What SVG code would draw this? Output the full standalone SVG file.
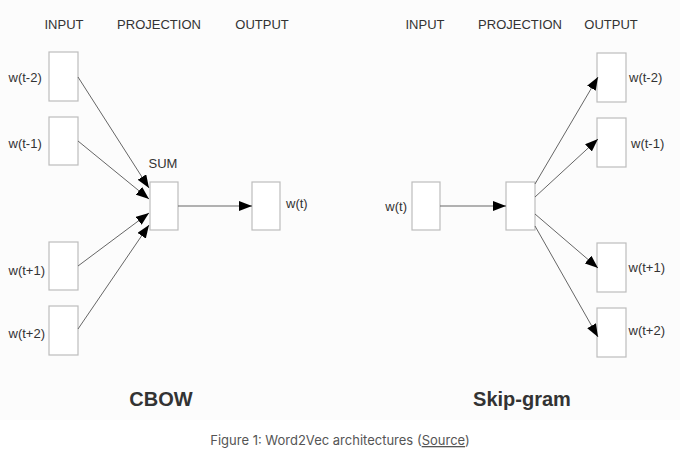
<svg xmlns="http://www.w3.org/2000/svg" width="680" height="452" viewBox="0 0 680 452">
<defs>
<marker id="ah" markerUnits="userSpaceOnUse" markerWidth="14" markerHeight="10" refX="13" refY="5" orient="auto">
<path d="M0,0 L13,5 L0,10 Z" fill="#000"/>
</marker>
<style>
.box{fill:#fff;stroke:#bdbdbd;stroke-width:1.2}
.lbl{font-family:"Liberation Sans",Arial,sans-serif;font-size:13px;fill:#333}
.hdr{font-family:"Liberation Sans",Arial,sans-serif;font-size:13px;fill:#333;text-anchor:middle}
.title{font-family:"Liberation Sans",Arial,sans-serif;font-size:20px;font-weight:bold;fill:#333;text-anchor:middle}
.cap{font-family:Inter,"Liberation Sans",sans-serif;font-size:13px;fill:#555;text-anchor:middle}
.con line{stroke:#666;stroke-width:1;marker-end:url(#ah)}
</style>
</defs>
<rect x="0" y="0" width="680" height="452" fill="#fff"/>
<rect x="0" y="0" width="680" height="420" fill="#fcfcfc"/>

<g id="cbow-headers">
<text class="hdr" x="64" y="29">INPUT</text>
<text class="hdr" x="159" y="29">PROJECTION</text>
<text class="hdr" x="262" y="29">OUTPUT</text>
</g>
<g id="skip-headers">
<text class="hdr" x="425" y="29">INPUT</text>
<text class="hdr" x="520" y="29">PROJECTION</text>
<text class="hdr" x="611" y="29">OUTPUT</text>
</g>

<g id="cbow-in-t-2"><rect class="box" x="49" y="52" width="29" height="49"/><text class="lbl" x="8.5" y="81.5">w(t-2)</text></g>
<g id="cbow-in-t-1"><rect class="box" x="49" y="117" width="29" height="48"/><text class="lbl" x="8.5" y="147.5">w(t-1)</text></g>
<g id="cbow-in-t+1"><rect class="box" x="49" y="242" width="29" height="48"/><text class="lbl" x="8.5" y="274.5">w(t+1)</text></g>
<g id="cbow-in-t+2"><rect class="box" x="49" y="306" width="29" height="49"/><text class="lbl" x="8.5" y="337.5">w(t+2)</text></g>
<g id="cbow-sum"><rect class="box" x="150" y="182" width="28" height="48"/><text class="hdr" x="163" y="167.5">SUM</text></g>
<g id="cbow-out"><rect class="box" x="252" y="182" width="28" height="48"/><text class="lbl" x="286" y="207.5">w(t)</text></g>
<g id="cbow-title"><text class="title" x="161" y="406">CBOW</text></g>

<g id="skip-in"><rect class="box" x="412" y="182" width="28" height="48"/><text class="lbl" x="407" y="211" text-anchor="end">w(t)</text></g>
<g id="skip-proj"><rect class="box" x="506" y="182" width="29" height="48"/></g>
<g id="skip-out-t-2"><rect class="box" x="597" y="53" width="29" height="49"/><text class="lbl" x="629" y="82">w(t-2)</text></g>
<g id="skip-out-t-1"><rect class="box" x="597" y="118" width="29" height="49"/><text class="lbl" x="631" y="147.5">w(t-1)</text></g>
<g id="skip-out-t+1"><rect class="box" x="597" y="243" width="29" height="49"/><text class="lbl" x="628.5" y="271.5">w(t+1)</text></g>
<g id="skip-out-t+2"><rect class="box" x="597" y="308" width="29" height="49"/><text class="lbl" x="628.5" y="334.5">w(t+2)</text></g>
<g id="skip-title"><text class="title" x="522" y="406">Skip-gram</text></g>

<g id="connectors" class="con">
<line x1="78" y1="77" x2="149" y2="188"/>
<line x1="78" y1="141" x2="149" y2="199"/>
<line x1="78" y1="266" x2="149" y2="213"/>
<line x1="78" y1="329" x2="149" y2="225"/>
<line x1="178" y1="206" x2="252" y2="206"/>
<line x1="440" y1="206" x2="506" y2="206"/>
<line x1="535" y1="184" x2="598" y2="77"/>
<line x1="535" y1="197" x2="598" y2="139"/>
<line x1="535" y1="214" x2="598" y2="268"/>
<line x1="535" y1="226" x2="598" y2="337"/>
</g>

<g id="caption"><text class="cap" x="340" y="445">Figure 1: Word2Vec architectures (<tspan text-decoration="underline">Source</tspan>)</text></g>
</svg>
